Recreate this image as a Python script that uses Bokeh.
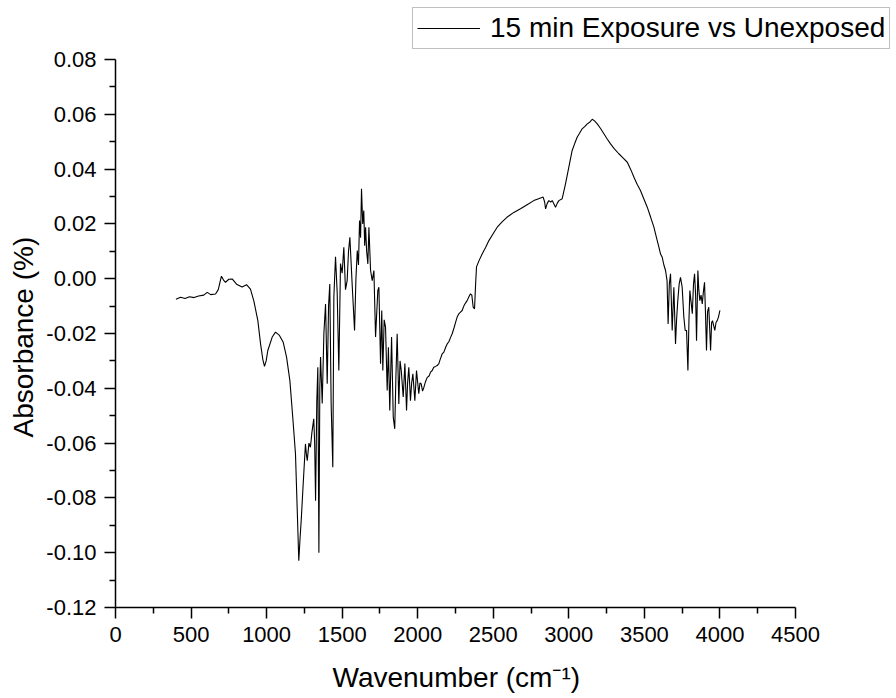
from bokeh.plotting import figure
from bokeh.models import Range1d, FixedTicker, Legend, LegendItem, Title
from bokeh.embed import file_html
from bokeh.resources import INLINE

# IR difference spectrum: wavenumber (cm^-1) and absorbance difference
wavenumber = [
    400, 430, 460, 490, 520, 550, 584, 607, 630, 662, 680, 701, 715, 728, 750,
    772, 801, 838, 867, 893, 915, 942, 960, 975, 986, 997, 1008, 1037, 1059,
    1085, 1110, 1132, 1154, 1175, 1191, 1203, 1213, 1221, 1229, 1242, 1257,
    1263, 1269, 1280, 1290, 1300, 1312, 1318, 1324, 1332, 1339, 1346, 1352,
    1357, 1368, 1379, 1390, 1401, 1410, 1418, 1427, 1438, 1445, 1456, 1467,
    1478, 1489, 1500, 1511, 1522, 1533, 1542, 1551, 1566, 1582, 1591, 1600,
    1608, 1615, 1622, 1628, 1636, 1643, 1649, 1655, 1662, 1670, 1677, 1688,
    1699, 1710, 1721, 1736, 1743, 1754, 1762, 1769, 1778, 1787, 1798, 1806,
    1815, 1827, 1838, 1848, 1856, 1864, 1875, 1883, 1891, 1904, 1915, 1926,
    1933, 1941, 1952, 1960, 1968, 1981, 1992, 2007, 2015, 2023, 2032, 2041,
    2052, 2063, 2075, 2085, 2096, 2106, 2118, 2129, 2140, 2146, 2162, 2173,
    2185, 2195, 2206, 2217, 2228, 2240, 2250, 2261, 2272, 2283, 2294, 2305,
    2316, 2327, 2338, 2349, 2358, 2367, 2376, 2383, 2389, 2405, 2427, 2450,
    2471, 2500, 2526, 2560, 2592, 2636, 2680, 2724, 2768, 2800, 2830, 2840,
    2846, 2857, 2868, 2880, 2890, 2912, 2923, 2934, 2956, 2978, 3000, 3022,
    3040, 3055, 3070, 3088, 3105, 3122, 3140, 3155, 3170, 3188, 3210, 3232,
    3254, 3276, 3300, 3331, 3360, 3387, 3410, 3431, 3452, 3474, 3496, 3519,
    3541, 3563, 3580, 3596, 3607, 3618, 3629, 3640, 3650, 3657, 3665, 3673,
    3684, 3695, 3706, 3713, 3721, 3730, 3739, 3750, 3761, 3770, 3779, 3788,
    3795, 3801, 3808, 3817, 3825, 3832, 3839, 3845, 3854, 3860, 3867, 3875,
    3883, 3890, 3898, 3904, 3911, 3918, 3926, 3932, 3938, 3945, 3951, 3958,
    3966, 3974, 3982, 3990, 4000,
]
absorbance = [
    -0.0075, -0.0068, -0.0072, -0.0066, -0.0069, -0.0063, -0.0060, -0.0050,
    -0.0058, -0.0056, -0.0040, 0.0009, -0.0005, -0.0013, -0.0002, -0.0001,
    -0.0020, -0.0030, -0.0022, -0.0038, -0.0080, -0.0153, -0.0238, -0.0295,
    -0.0320, -0.0300, -0.0262, -0.0213, -0.0195, -0.0207, -0.0232, -0.0286,
    -0.0372, -0.0520, -0.0639, -0.0850, -0.1029, -0.0950, -0.0882, -0.0749,
    -0.0603, -0.0640, -0.0664, -0.0600, -0.0615, -0.0560, -0.0511, -0.0600,
    -0.0810, -0.0450, -0.0323, -0.1000, -0.0400, -0.0286, -0.0455, -0.0200,
    -0.0092, -0.0383, -0.0100, -0.0019, -0.0455, -0.0688, -0.0067, 0.0080,
    -0.0050, -0.0335, 0.0055, 0.0020, 0.0115, -0.0040, -0.0007, 0.0100,
    0.0151, -0.0019, -0.0189, 0.0000, 0.0103, 0.0050, 0.0212, 0.0150, 0.0328,
    0.0200, 0.0249, 0.0120, 0.0188, 0.0100, 0.0054, 0.0188, 0.0030, -0.0007,
    0.0030, -0.0213, -0.0043, -0.0031, -0.0310, -0.0116, -0.0335, -0.0150,
    -0.0177, -0.0408, -0.0250, -0.0481, -0.0213, -0.0505, -0.0548, -0.0350,
    -0.0201, -0.0457, -0.0300, -0.0335, -0.0432, -0.0310, -0.0481, -0.0380,
    -0.0323, -0.0445, -0.0380, -0.0347, -0.0445, -0.0335, -0.0420, -0.0380,
    -0.0384, -0.0410, -0.0396, -0.0375, -0.0360, -0.0355, -0.0341, -0.0335,
    -0.0323, -0.0320, -0.0317, -0.0310, -0.0299, -0.0274, -0.0268, -0.0250,
    -0.0238, -0.0230, -0.0215, -0.0201, -0.0180, -0.0160, -0.0140, -0.0128,
    -0.0122, -0.0116, -0.0100, -0.0089, -0.0080, -0.0067, -0.0055, -0.0060,
    -0.0104, -0.0110, -0.0020, 0.0043, 0.0065, 0.0091, 0.0115, 0.0139, 0.0165,
    0.0188, 0.0208, 0.0225, 0.0242, 0.0255, 0.0270, 0.0285, 0.0292, 0.0298,
    0.0280, 0.0255, 0.0275, 0.0285, 0.0280, 0.0285, 0.0261, 0.0275, 0.0285,
    0.0292, 0.0346, 0.0407, 0.0468, 0.0495, 0.0516, 0.0530, 0.0547, 0.0555,
    0.0565, 0.0572, 0.0582, 0.0576, 0.0565, 0.0548, 0.0529, 0.0510, 0.0492,
    0.0475, 0.0456, 0.0440, 0.0425, 0.0398, 0.0370, 0.0345, 0.0322, 0.0292,
    0.0261, 0.0225, 0.0188, 0.0150, 0.0115, 0.0090, 0.0078, 0.0050, 0.0030,
    -0.0007, -0.0165, -0.0020, 0.0018, -0.0189, -0.0031, -0.0238, -0.0150,
    -0.0080, -0.0020, 0.0005, -0.0031, -0.0140, -0.0189, -0.0189, -0.0335,
    -0.0150, -0.0043, -0.0080, -0.0128, -0.0020, 0.0018, -0.0060, -0.0226,
    0.0030, -0.0040, -0.0080, -0.0060, -0.0092, -0.0050, -0.0013, -0.0120,
    -0.0262, -0.0120, -0.0104, -0.0180, -0.0262, -0.0160, -0.0153, -0.0170,
    -0.0189, -0.0160, -0.0153, -0.0140, -0.0116,
]

x_ticks = [0, 500, 1000, 1500, 2000, 2500, 3000, 3500, 4000, 4500]
x_minor = [250, 750, 1250, 1750, 2250, 2750, 3250, 3750, 4250]
y_ticks = [-0.12, -0.10, -0.08, -0.06, -0.04, -0.02, 0.00, 0.02, 0.04, 0.06, 0.08]
y_tick_labels = ["-0.12", "-0.10", "-0.08", "-0.06", "-0.04", "-0.02",
                 "0.00", "0.02", "0.04", "0.06", "0.08"]
y_minor = [-0.11, -0.09, -0.07, -0.05, -0.03, -0.01, 0.01, 0.03, 0.05, 0.07]
series_name = "15 min Exposure vs Unexposed"
x_title = "Wavenumber (cm\u207b\u00b9)"
y_title = "Absorbance (%)"

FONT = "Liberation Sans"

# Axis spans 0..4500 over 680 px and -0.12..0.08 over 548 px; the frame is
# extended to the right and top edges so the legend can sit above the data.
X_AXIS = (0, 4500)
Y_AXIS = (-0.12, 0.08)
AX_W, AX_H = 680, 548
FRAME_W, FRAME_H = 781, 607
x_end = X_AXIS[0] + (X_AXIS[1] - X_AXIS[0]) * FRAME_W / AX_W
y_end = Y_AXIS[0] + (Y_AXIS[1] - Y_AXIS[0]) * FRAME_H / AX_H

p = figure(
    frame_width=FRAME_W, frame_height=FRAME_H,
    x_range=Range1d(X_AXIS[0], x_end), y_range=Range1d(Y_AXIS[0], y_end),
    output_backend="svg", toolbar_location=None,
    min_border_left=115, min_border_right=0,
    min_border_top=0, min_border_bottom=91,
)
p.outline_line_color = None
p.xgrid.visible = False
p.ygrid.visible = False
p.background_fill_color = "white"
p.border_fill_color = "white"

line = p.line(wavenumber, absorbance, line_color="black", line_width=1.1)

for ax in (p.xaxis[0], p.yaxis[0]):
    ax.axis_line_width = 1.5
    ax.axis_line_color = "black"
    ax.major_tick_line_width = 1.5
    ax.minor_tick_line_width = 1.5
    ax.major_tick_line_color = "black"
    ax.minor_tick_line_color = "black"
    ax.major_tick_out = 11
    ax.major_tick_in = 0
    ax.minor_tick_out = 6
    ax.minor_tick_in = 0
    ax.major_label_text_font = FONT
    ax.major_label_text_font_size = "22px"
    ax.major_label_text_color = "black"
    ax.major_label_standoff = 8

p.xaxis.bounds = X_AXIS
p.yaxis.bounds = Y_AXIS
p.xaxis.ticker = FixedTicker(ticks=x_ticks, minor_ticks=x_minor)
p.yaxis.ticker = FixedTicker(ticks=y_ticks, minor_ticks=y_minor)
p.yaxis.major_label_overrides = {t: s for t, s in zip(y_ticks, y_tick_labels)}

# Axis titles placed along the drawn axis lines (offsets from the frame's
# left edge / bottom edge)
p.add_layout(Title(text=x_title, align="left", offset=217, standoff=31,
                   text_font=FONT, text_font_size="28px",
                   text_font_style="normal", text_color="black"), "below")
p.add_layout(Title(text=y_title, align="left", offset=170, standoff=10,
                   text_font=FONT, text_font_size="28px",
                   text_font_style="normal", text_color="black"), "left")

legend = Legend(
    items=[LegendItem(label=series_name, renderers=[line])],
    location=(297, 558),
    margin=0, padding=4, spacing=0,
    glyph_width=63, glyph_height=28, label_standoff=10,
    label_text_font=FONT, label_text_font_size="28px",
    label_text_color="black",
    border_line_color="#7f7f7f", border_line_width=1.2,
    background_fill_color="white", background_fill_alpha=1.0,
)
p.add_layout(legend)

open("out.html", "w").write(file_html(p, INLINE))
